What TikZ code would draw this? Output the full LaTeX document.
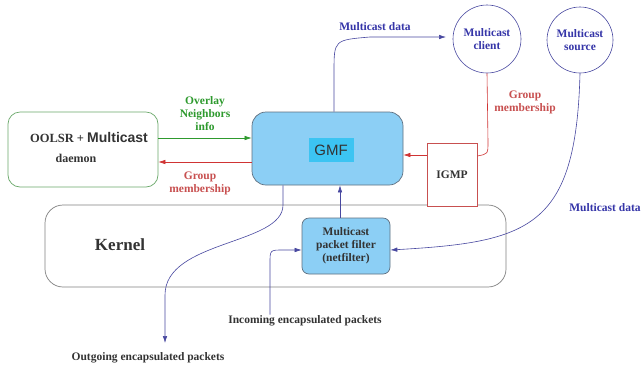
\documentclass[tikz,border=0pt]{standalone}
\usepackage{fontspec}
\setmainfont{Liberation Serif}
\setsansfont{Liberation Sans}
\usetikzlibrary{arrows.meta}
\definecolor{gfill}{HTML}{8CCFF5}
\definecolor{ghi}{HTML}{3CC4F2}
\definecolor{gline}{HTML}{607080}
\definecolor{dgreen}{HTML}{2E9A2E}
\definecolor{boxgreen}{HTML}{6AA86A}
\definecolor{dred}{HTML}{D03434}
\definecolor{lred}{HTML}{C85050}
\definecolor{dblue}{HTML}{4848A0}
\definecolor{tblue}{HTML}{3535A8}
\definecolor{txt}{HTML}{333333}
\tikzset{
  x=1pt, y=-1pt,
  lbl/.style={font=\bfseries\fontsize{11.5}{13}\selectfont, text=txt, align=center, inner sep=1pt},
  bluelbl/.style={lbl, text=tblue},
  redlbl/.style={lbl, text=lred},
  greenlbl/.style={lbl, text=dgreen},
  tip/.style={-{Latex[length=7pt,width=4.5pt]}},
  bluearrow/.style={tip, draw=dblue, line width=0.6pt},
  redarrow/.style={tip, draw=dred, line width=0.6pt},
  greenarrow/.style={tip, draw=dgreen, line width=0.6pt},
  bluebox/.style={draw=gline, fill=gfill, line width=0.7pt},
  ring/.style={circle, draw=dblue, line width=0.6pt, inner sep=0pt},
}
\begin{document}
\begin{tikzpicture}
\useasboundingbox[fill=white] (0,0) rectangle (642,368);

% kernel area
\node[draw=gray, line width=0.7pt, rounded corners=18pt, minimum width=461pt, minimum height=82pt] (kernel) at (275.5,246) {};
\node[lbl, font=\bfseries\fontsize{17}{18}\selectfont] (kerneltxt) at (120,245) {Kernel};

% routing daemon
\node[draw=boxgreen, line width=0.7pt, rounded corners=12pt, minimum width=150pt, minimum height=75pt] (oolsr) at (83,149.5) {};
\node[lbl, font=\bfseries\fontsize{12.5}{14}\selectfont] (oolsrtxt) at (89,137) {OOLSR + {\sffamily\fontsize{14}{15}\selectfont Multicast}};
\node[lbl, font=\bfseries\fontsize{12}{14}\selectfont] (daemontxt) at (76,158) {daemon};

% group management framework
\node[bluebox, rounded corners=14pt, minimum width=151pt, minimum height=73pt] (gmf) at (327.5,148.5) {};
\node[fill=ghi, inner sep=2pt, minimum width=45pt, minimum height=24pt, font=\sffamily\fontsize{15}{16}\selectfont, text=txt] (gmftxt) at (331,150) {GMF};

% hosts
\node[ring, minimum size=68pt, bluelbl] (client) at (487,39) {Multicast\\client};
\node[ring, minimum size=66pt, bluelbl] (source) at (580,40) {Multicast\\source};

% IGMP block
\node[draw=lred, fill=white, line width=0.6pt, minimum width=50pt, minimum height=63pt, lbl] (igmp) at (452,174.5) {IGMP};

% kernel packet filter
\node[bluebox, rounded corners=7pt, minimum width=88pt, minimum height=56pt, lbl] (filter) at (346,246) {Multicast\\packet filter\\(netfilter)};

% free labels
\node[greenlbl] (ovl) at (205,114) {Overlay\\Neighbors\\info};
\node[redlbl] (gm1) at (200,183) {Group\\membership};
\node[bluelbl] (md1) at (375,27) {Multicast data};
\node[redlbl] (gm2) at (525,102) {Group\\membership};
\node[bluelbl] (md2) at (605,208) {Multicast data};
\node[lbl] (inlbl) at (305,321) {Incoming encapsulated packets};
\node[lbl] (outlbl) at (148,358) {Outgoing encapsulated packets};
\coordinate (outend) at (165,343);
\coordinate (dataend) at (446,37);

% connectors
\draw[greenarrow] (oolsr.east |- 0,138) -- (gmf.west |- 0,138);
\draw[redarrow] (gmf.west |- 0,162) -- (oolsr.east |- 0,162);
\draw[redarrow] (igmp.west |- 0,155) -- (gmf.east |- 0,155);
\draw[dred, line width=0.6pt] (client.south) -- (488,142) .. controls (488,154) .. (igmp.east |- 0,156);
\draw[bluearrow] (gmf.north -| 334,0) -- (334,72) .. controls (334,40) .. (370,37) -- (dataend);
\draw[bluearrow] (filter.north -| 340,0) -- (gmf.south -| 340,0);
\draw[bluearrow] (source.south) .. controls (576,228) and (530,242) .. (filter.east |- 0,250);
\draw[bluearrow] (inlbl.north -| 270,0) -- (270,263) .. controls (270,250) .. (283,250) -- (filter.west |- 0,250);
\draw[bluearrow] (gmf.south -| 283,0) -- (283,205) .. controls (283,245) and (165,240) .. (165,295) -- (outend);
\end{tikzpicture}
\end{document}
